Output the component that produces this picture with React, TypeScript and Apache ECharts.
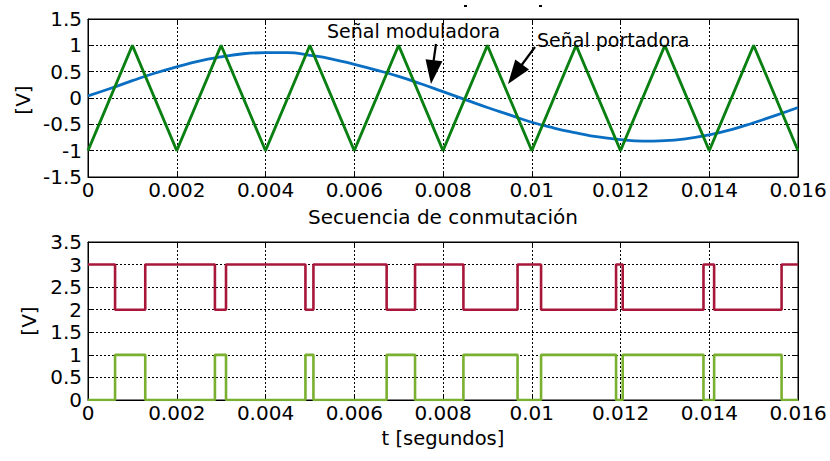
import React, { useEffect, useRef } from "react";
import * as echarts from "echarts";

// Top plot: modulating sine and triangular carrier vertices
const modTimes = [0, 0.0005, 0.001, 0.0015, 0.002, 0.0025, 0.003, 0.0035, 0.004, 0.0045, 0.005, 0.0055, 0.006, 0.0065, 0.007, 0.0075, 0.008, 0.0085, 0.009, 0.0095, 0.01, 0.0105, 0.011, 0.0115, 0.012, 0.0125, 0.013, 0.0135, 0.014, 0.0145, 0.015, 0.0155, 0.016];
const modValues = [0.04, 0.18, 0.33, 0.47, 0.59, 0.7, 0.78, 0.84, 0.86, 0.86, 0.81, 0.74, 0.64, 0.53, 0.41, 0.27, 0.12, -0.03, -0.18, -0.32, -0.46, -0.57, -0.66, -0.74, -0.79, -0.82, -0.81, -0.77, -0.7, -0.6, -0.47, -0.33, -0.18];
const carrierTimes = [0, 0.001, 0.002, 0.003, 0.004, 0.005, 0.006, 0.007, 0.008, 0.009, 0.01, 0.011, 0.012, 0.013, 0.014, 0.015, 0.016];
const carrierValues = [-1, 1, -1, 1, -1, 1, -1, 1, -1, 1, -1, 1, -1, 1, -1, 1, -1];

// Bottom plot: switching sequence (level held from each time until the next)
const switchTimes = [0, 0.00061, 0.00129, 0.00286, 0.00311, 0.0049, 0.00508, 0.00673, 0.00737, 0.00846, 0.00968, 0.01021, 0.0119, 0.01205, 0.01387, 0.01411, 0.01563, 0.016];
const upperLevels = [3, 2, 3, 2, 3, 2, 3, 2, 3, 2, 3, 2, 3, 2, 3, 2, 3, 3];
const lowerLevels = [0, 1, 0, 1, 0, 1, 0, 1, 0, 1, 0, 1, 0, 1, 0, 1, 0, 0];

const xTickMin = 0;
const xTickMax = 0.016;
const xTickStep = 0.002;

const FONT = "DejaVu Sans";

export default function App() {
  const ref = useRef<HTMLDivElement>(null);

  useEffect(() => {
    if (!ref.current) return;
    const chart = echarts.init(ref.current, undefined, { renderer: "svg" });

    const grids = [
      { left: 88, top: 19, width: 710, height: 158 },
      { left: 88, top: 242, width: 710, height: 158 },
    ].map((g) => ({ ...g, show: true, borderColor: "#000", borderWidth: 1, backgroundColor: "#fff" }));

    const gridLine = { show: true, lineStyle: { color: "#000", width: 1, type: [2, 2] as any } };
    const fmtX = (v: number) => String(+v.toFixed(4));

    const xAxes: any[] = [];
    const yAxes: any[] = [];
    [0, 1].forEach((gi) => {
      xAxes.push({
        type: "value", gridIndex: gi, min: xTickMin, max: xTickMax, interval: xTickStep,
        position: "bottom",
        axisLine: { show: true, onZero: false, lineStyle: { color: "#000", width: 1 } },
        axisTick: { show: true, inside: true, length: 5, lineStyle: { color: "#000" } },
        axisLabel: { show: true, color: "#000", fontSize: 20, fontFamily: FONT, margin: 3, formatter: fmtX },
        splitLine: gridLine,
      });
      xAxes.push({
        type: "value", gridIndex: gi, min: xTickMin, max: xTickMax, interval: xTickStep,
        position: "top",
        axisLine: { show: true, onZero: false, lineStyle: { color: "#000", width: 1 } },
        axisTick: { show: true, inside: true, length: 5, lineStyle: { color: "#000" } },
        axisLabel: { show: false },
        splitLine: { show: false },
      });
    });
    const yRanges = [
      { min: -1.5, max: 1.5, interval: 0.5 },
      { min: 0, max: 3.5, interval: 0.5 },
    ];
    yRanges.forEach((r, gi) => {
      yAxes.push({
        type: "value", gridIndex: gi, ...r, position: "left",
        axisLine: { show: true, onZero: false, lineStyle: { color: "#000", width: 1 } },
        axisTick: { show: true, inside: true, length: 5, lineStyle: { color: "#000" } },
        axisLabel: { show: true, color: "#000", fontSize: 20, fontFamily: FONT, margin: 6 },
        splitLine: gridLine,
      });
      yAxes.push({
        type: "value", gridIndex: gi, ...r, position: "right",
        axisLine: { show: true, onZero: false, lineStyle: { color: "#000", width: 1 } },
        axisTick: { show: true, inside: true, length: 5, lineStyle: { color: "#000" } },
        axisLabel: { show: false },
        splitLine: { show: false },
      });
    });

    const zip = (a: number[], b: number[]) => a.map((t, i) => [t, b[i]]);

    const arrowHead = (tip: number[], from: number[], len: number, half: number) => {
      const dx = tip[0] - from[0];
      const dy = tip[1] - from[1];
      const d = Math.hypot(dx, dy);
      const ux = dx / d, uy = dy / d;
      const bx = tip[0] - ux * len, by = tip[1] - uy * len;
      return [tip, [bx - uy * half, by + ux * half], [bx + uy * half, by - ux * half]];
    };
    const a1from = [436, 44], a1tip = [431, 84];
    const a2from = [535, 47], a2tip = [508, 84];

    const text = (s: string, x: number, y: number, size: number, align = "left", rot = 0) => ({
      type: "text", x, y, rotation: rot,
      style: { text: s, fill: "#000", font: `${size}px "${FONT}"`, textAlign: align, textVerticalAlign: "middle" },
      z: 100,
    });

    chart.setOption({
      animation: false,
      backgroundColor: "#fff",
      textStyle: { fontFamily: FONT },
      grid: grids,
      xAxis: xAxes,
      yAxis: yAxes,
      series: [
        {
          type: "line", xAxisIndex: 0, yAxisIndex: 0, data: zip(modTimes, modValues), smooth: 0.5,
          showSymbol: false, lineStyle: { color: "#0a6fc2", width: 2.8 }, z: 3,
        },
        {
          type: "line", xAxisIndex: 0, yAxisIndex: 0, data: zip(carrierTimes, carrierValues),
          showSymbol: false, lineStyle: { color: "#0a7f12", width: 2.8 }, z: 4,
        },
        {
          type: "line", xAxisIndex: 2, yAxisIndex: 2, data: zip(switchTimes, upperLevels), step: "end",
          showSymbol: false, lineStyle: { color: "#a8173a", width: 2.6 }, z: 3,
        },
        {
          type: "line", xAxisIndex: 2, yAxisIndex: 2, data: zip(switchTimes, lowerLevels), step: "end",
          showSymbol: false, lineStyle: { color: "#79b030", width: 2.6 }, z: 3,
        },
      ],
      graphic: [
        text("Señal moduladora", 327, 31, 19),
        text("Señal portadora", 537, 40, 19),
        { type: "line", shape: { x1: a1from[0], y1: a1from[1], x2: a1tip[0] + 1, y2: a1tip[1] - 12 }, style: { stroke: "#000", lineWidth: 2.2 }, z: 100 },
        { type: "polygon", shape: { points: arrowHead(a1tip, a1from, 24, 8.5) }, style: { fill: "#000" }, z: 100 },
        { type: "line", shape: { x1: a2from[0], y1: a2from[1], x2: a2tip[0] + 7, y2: a2tip[1] - 10 }, style: { stroke: "#000", lineWidth: 2.2 }, z: 100 },
        { type: "polygon", shape: { points: arrowHead(a2tip, a2from, 24, 8.5) }, style: { fill: "#000" }, z: 100 },
        text("Secuencia de conmutación", 443, 217, 20, "center"),
        text("t [segundos]", 443, 438, 19.5, "center"),
        text("[V]", 23, 100, 20, "center", Math.PI / 2),
        text("[V]", 29, 321, 20, "center", Math.PI / 2),
        { type: "rect", shape: { x: 464, y: 5, width: 3, height: 2 }, style: { fill: "#000" }, z: 100 },
        { type: "rect", shape: { x: 539, y: 5, width: 3, height: 2 }, style: { fill: "#000" }, z: 100 },
      ],
    });

    return () => chart.dispose();
  }, []);

  return (
    <div
      ref={ref}
      style={{ position: "fixed", left: 0, top: 0, width: 830, height: 461, background: "#fff" }}
    />
  );
}
